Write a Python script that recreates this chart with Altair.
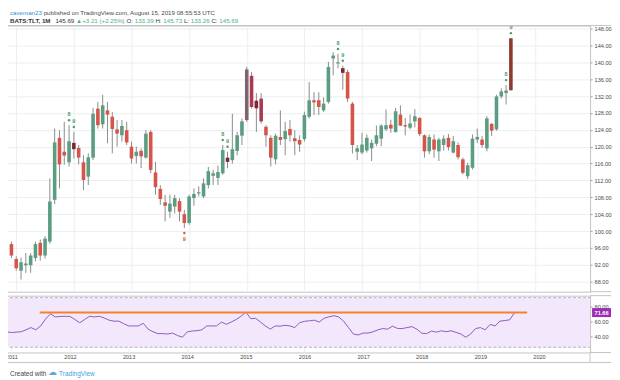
import altair as alt
import pandas as pd

# ---------------- data ----------------
first_month = (2010, 12)   # first monthly candle (Dec 2010) ... last = Aug 2019

opens = [96.9, 93.4, 90.6, 91.9, 91.9, 93.6, 97.2, 94.2, 97.5, 107.4,
         122.1, 118.8, 116.3, 120.9, 119.7, 116.3, 112.9, 117.4, 129.0, 125.3,
         128.6, 127.1, 124.1, 122.7, 123.9, 120.0, 117.8, 119.0, 117.4, 123.5,
         113.9, 110.0, 106.8, 104.6, 105.8, 107.1, 104.0, 101.9, 107.8, 108.9,
         108.2, 110.9, 113.1, 112.6, 113.7, 117.4, 116.8, 119.0, 122.6, 126.3,
         136.8, 130.9, 131.4, 124.7, 122.1, 117.0, 122.3, 121.8, 124.2, 122.0,
         121.6, 121.8, 127.1, 131.0, 131.0, 128.6, 130.6, 140.9, 139.7, 138.6,
         137.7, 130.2, 118.8, 118.6, 119.1, 119.6, 120.7, 121.9, 124.1, 125.2,
         123.5, 127.6, 125.1, 124.5, 126.0, 126.8, 122.7, 118.9, 121.7, 118.9,
         120.4, 122.1, 118.6, 120.4, 117.0, 113.0, 115.0, 121.7, 121.7, 119.6,
         125.4, 124.1, 131.9, 132.7, 133.39]
highs = [97.5, 94.0, 93.7, 94.8, 94.8, 97.5, 98.0, 98.8, 112.5, 124.3,
         123.9, 125.9, 125.1, 123.5, 120.4, 118.0, 118.4, 129.2, 130.6, 132.3,
         130.6, 128.2, 126.3, 126.3, 125.9, 121.2, 120.0, 119.6, 123.9, 123.9,
         116.4, 110.9, 108.6, 108.6, 108.6, 107.8, 105.0, 108.6, 110.1, 110.6,
         112.5, 115.2, 114.5, 115.5, 120.4, 118.8, 127.8, 123.5, 126.7, 138.9,
         137.7, 132.7, 132.7, 125.1, 122.7, 123.1, 128.6, 125.9, 126.3, 123.9,
         122.7, 128.3, 135.3, 132.9, 132.9, 131.7, 140.1, 142.4, 142.0, 139.2,
         138.2, 130.6, 120.4, 123.3, 122.9, 121.7, 125.0, 125.3, 128.8, 126.4,
         129.2, 129.8, 126.8, 127.6, 128.9, 127.0, 122.9, 122.9, 122.9, 122.1,
         122.7, 123.0, 122.5, 121.0, 117.4, 116.2, 122.9, 124.3, 122.5, 127.2,
         125.6, 132.3, 133.8, 134.6, 145.73]
lows = [93.6, 90.6, 88.5, 90.1, 90.1, 92.8, 93.0, 93.5, 97.0, 106.4,
        110.1, 115.7, 115.3, 117.2, 115.8, 109.7, 110.9, 116.8, 124.3, 124.3,
        120.8, 118.4, 120.0, 121.2, 120.4, 116.0, 116.0, 114.9, 117.2, 113.7,
        108.6, 106.2, 102.3, 103.1, 104.2, 102.3, 100.7, 101.5, 106.0, 108.2,
        107.8, 110.1, 110.9, 110.9, 113.3, 114.9, 116.0, 118.0, 120.4, 125.9,
        129.0, 123.5, 125.5, 120.0, 115.3, 115.8, 120.4, 118.0, 121.2, 118.0,
        118.8, 121.2, 126.7, 127.5, 127.5, 128.2, 130.2, 136.9, 138.6, 133.5,
        130.6, 118.4, 116.8, 118.2, 118.6, 116.6, 120.1, 120.1, 123.7, 123.3,
        123.3, 124.9, 122.7, 124.1, 124.6, 122.5, 117.4, 118.2, 117.4, 116.6,
        119.1, 119.1, 118.4, 117.0, 113.4, 112.3, 114.6, 120.9, 119.7, 118.9,
        122.5, 123.8, 131.4, 130.0, 133.26]
closes = [94.2, 91.2, 92.6, 92.3, 94.2, 96.9, 94.2, 98.2, 107.0, 121.0,
          115.8, 117.9, 121.3, 119.4, 117.4, 112.1, 117.5, 127.8, 125.1, 129.8,
          127.6, 124.2, 123.1, 124.9, 121.0, 117.2, 118.8, 117.7, 123.1, 114.5,
          110.4, 107.6, 106.0, 106.5, 107.8, 104.6, 101.9, 108.2, 108.8, 109.2,
          111.3, 114.2, 113.7, 114.0, 119.2, 116.4, 119.4, 122.7, 126.0, 138.3,
          129.4, 129.1, 126.0, 122.7, 117.4, 122.6, 121.6, 123.7, 122.7, 121.3,
          120.5, 127.5, 131.0, 130.5, 129.4, 130.2, 138.9, 141.6, 140.0, 137.5,
          131.4, 120.4, 119.6, 120.5, 122.1, 120.9, 122.7, 125.0, 125.1, 124.3,
          128.4, 125.0, 124.8, 125.5, 127.2, 123.0, 118.9, 122.3, 119.3, 121.7,
          121.9, 119.9, 121.3, 117.5, 113.8, 115.6, 121.9, 122.3, 120.4, 126.7,
          123.8, 131.9, 133.1, 133.3, 145.69]
rsi = [46, 45, 45.5, 46, 48.6, 51.6, 48.6, 53.8, 63, 70,
       65.8, 66.5, 66.7, 66.5, 62.4, 58, 62.4, 66.7, 65.8, 66.7,
       64.5, 61.5, 60.2, 60.2, 56.8, 53.8, 53.8, 53.8, 57.3, 49.5,
       46, 43.5, 43.5, 43, 44.3, 41, 38.7, 45.9, 47, 47.5,
       48.6, 53.8, 53.8, 53.8, 59, 56, 59, 62.4, 66.7, 72.3,
       63.5, 64, 59, 53.8, 49.5, 53.8, 53.5, 54.7, 53.8, 51.6,
       58, 60, 60.6, 61.5, 59, 64, 66, 67.5, 65.8, 60.2,
       51.6, 43, 41.7, 44.3, 44.3, 45.9, 48.5, 50.3, 49.5, 53.5,
       50.5, 50.3, 51.6, 52.9, 49.5, 44, 43.5, 47, 45.5, 47.3,
       46, 47.3, 45.2, 43, 38.7, 43, 50.3, 51.6, 48.6, 55.9,
       53.8, 60.2, 61, 62, 71.66]

# bars drawn in a highlighted colour on the reference
special_bars = {"2012-01": "maroon", "2014-09": "maroon", "2015-01": "mauve",
                "2015-02": "crimson", "2015-03": "maroon", "2015-04": "crimson",
                "2016-09": "maroon", "2019-08": "brown"}
markers_above = [("2011-12", "8"), ("2012-01", "9"), ("2014-08", "8"), ("2014-09", "9"),
                 ("2016-08", "8"), ("2016-09", "9"), ("2019-07", "8"), ("2019-08", "9")]
markers_below = [("2013-12", "9")]

year_labels = list(range(2011, 2021))
price_ticks = list(range(88, 149, 4))
rsi_ticks = [40, 60, 80]
rsi_level = 71.66
rsi_band = [25.3, 91.6]
trend_dates = ["2011-06-25", "2019-10-18"]

header_line1 = [("caveman23", "#2f8fdc", "normal"),
                ("published on TradingView.com, August 15, 2019 08:55:53 UTC", "#4a4a4a", "normal")]
header_line2 = [("BATS:TLT, 1M", "#333333", "bold"), ("145.69", "#333333", "normal"),
                ("\u25B2", "#4caf7d", "normal"), ("+3.21 (+2.25%)", "#4caf7d", "normal"),
                ("O:", "#333333", "normal"), ("133.39", "#4caf7d", "normal"),
                ("H:", "#333333", "normal"), ("145.73", "#4caf7d", "normal"),
                ("L:", "#333333", "normal"), ("133.26", "#4caf7d", "normal"),
                ("C:", "#333333", "normal"), ("145.69", "#4caf7d", "normal")]

# ---------------- helpers ----------------
n = len(opens)
base_t = first_month[0] * 12 + first_month[1] - 1
months = [f"{(base_t + i) // 12}-{(base_t + i) % 12 + 1:02d}" for i in range(n)]
idx = {mo: i for i, mo in enumerate(months)}


def frac_index(date_str):
    y, m, d = map(int, date_str.split("-"))
    return (y * 12 + m - 1) - base_t + (d - 1) / 30.0


EM = {' ': .278, '.': .278, ',': .278, ':': .278, '(': .333, ')': .333, '+': .584,
      '%': .889, 'A': .667, 'B': .667, 'C': .722, 'H': .722, 'L': .556, 'M': .833,
      'O': .778, 'S': .667, 'T': .611, 'U': .722, 'V': .667, 'I': .278,
      'a': .556, 'b': .556, 'c': .5, 'd': .556, 'e': .556, 'f': .278, 'g': .556,
      'h': .556, 'i': .222, 'j': .222, 'k': .5, 'l': .222, 'm': .833, 'n': .556,
      'o': .556, 'p': .556, 'q': .556, 'r': .333, 's': .5, 't': .278, 'u': .556,
      'v': .5, 'w': .722, 'x': .5, 'y': .5, 'z': .5, '\u25B2': .72}


def text_w(s, size, bold=False):
    w = sum(EM.get(ch, .556) for ch in s) * size
    return w * (1.07 if bold else 1.0)


states = []
for i in range(n):
    s = special_bars.get(months[i])
    if s is None:
        s = "up" if closes[i] >= opens[i] else "down"
    states.append(s)

candles = pd.DataFrame({
    "m": list(range(n)), "month": months, "open": opens, "high": highs,
    "low": lows, "close": closes, "state": states,
})
candles["body_lo"] = candles[["open", "close"]].min(axis=1)
candles["body_hi"] = candles[["open", "close"]].max(axis=1).clip(lower=candles["body_lo"] + 0.3)

rsi_df = pd.DataFrame({"m": list(range(n)), "rsi": rsi})

year_ticks = [frac_index(f"{y}-01-01") for y in year_labels]
trend_m = [frac_index(d) for d in trend_dates]

# ---------------- layout / style ----------------
W = 587
H_MAIN = 267
H_RSI = 57
EXT = 21          # right price-scale strip
X_DOMAIN = [-0.3, 119.45]
P_DOMAIN = [85.63, 148.71]
R_DOMAIN = [18.3, 94.3]
FRAME = "#c4c4c4"
GRID = "#eceef1"
WICK = "#8c8c8c"
FONT = "Liberation Sans"
HDR = 6.2
LBL = dict(labelFontSize=5.6, labelColor="#4a4a4a", labelFont=FONT, labelOverlap=False)
state_dom = ["up", "down", "maroon", "mauve", "crimson", "brown"]
state_rng = ["#5b9d80", "#d6544a", "#7e2733", "#7d6470", "#a83a52", "#8e3a2c"]

xs = alt.Scale(domain=X_DOMAIN, nice=False, zero=False)
ps = alt.Scale(domain=P_DOMAIN, nice=False, zero=False)
rs = alt.Scale(domain=R_DOMAIN, nice=False, zero=False)
one = pd.DataFrame({"k": [0]})
tag_half = 4.5 * (R_DOMAIN[1] - R_DOMAIN[0]) / H_RSI   # 9 px tall tag, in RSI units

ax_x_main = alt.Axis(values=year_ticks, labels=False, ticks=False, domain=False,
                     grid=True, gridColor=GRID, title=None)
ax_y_main = alt.Axis(orient="right", values=price_ticks, format=".2f", grid=True,
                     gridColor=GRID, domain=False, tickSize=2, tickColor="#9a9a9a",
                     labelPadding=2, title=None, **LBL)
label_expr = f"'' + ({year_labels[0]} + round((datum.value - {year_ticks[0]}) / 12))"
ax_x_rsi = alt.Axis(values=year_ticks, labelExpr=label_expr, grid=True, gridColor=GRID,
                    ticks=False, domain=False, labelPadding=2, title=None, **LBL)
ax_y_rsi = alt.Axis(orient="right", values=rsi_ticks, format=".2f", grid=True,
                    gridColor="#e9def2", domain=False, tickSize=2, tickColor="#9a9a9a",
                    labelPadding=2, title=None, **LBL)


def hrule(y, x0, x1, color=FRAME, width=1):
    return alt.Chart(one).mark_rule(color=color, strokeWidth=width).encode(
        x=alt.value(x0), x2=alt.value(x1), y=alt.value(y))


def vrule(x, y0, y1, color=FRAME, width=1):
    return alt.Chart(one).mark_rule(color=color, strokeWidth=width).encode(
        x=alt.value(x), y=alt.value(y0), y2=alt.value(y1))


def text_line(segments, y, size, x0=5):
    layers = []
    x = x0
    for s, color, weight in segments:
        bold = weight == "bold"
        layers.append(
            alt.Chart(pd.DataFrame({"t": [s]})).mark_text(
                align="left", baseline="top", fontSize=size, font=FONT,
                fontWeight=weight, color=color
            ).encode(x=alt.value(x), y=alt.value(y), text="t:N"))
        x += text_w(s, size, bold) + text_w(" ", size)
    return layers


# ---------------- main price pane ----------------
X_M = lambda f: alt.X(f, scale=xs, axis=ax_x_main)
Y_M = lambda f: alt.Y(f, scale=ps, axis=ax_y_main)

cd = alt.Chart(candles)
wicks = cd.mark_rule(color=WICK, strokeWidth=1).encode(
    x=X_M("m:Q"), y=Y_M("low:Q"), y2="high:Q")
bodies = cd.mark_bar(size=3.6).encode(
    x=X_M("m:Q"), y=Y_M("body_lo:Q"), y2="body_hi:Q",
    color=alt.Color("state:N", scale=alt.Scale(domain=state_dom, range=state_rng), legend=None),
    tooltip=["month:N", "open:Q", "high:Q", "low:Q", "close:Q"],
)

mk_a = pd.DataFrame({"m": [idx[a] for a, _ in markers_above],
                     "p": [highs[idx[a]] for a, _ in markers_above],
                     "lab": [b for _, b in markers_above]})
mk_b = pd.DataFrame({"m": [idx[a] for a, _ in markers_below],
                     "p": [lows[idx[a]] for a, _ in markers_below],
                     "lab": [b for _, b in markers_below]})
dots_a = alt.Chart(mk_a).mark_circle(size=6, color="#4f9a6e", opacity=1, yOffset=-5).encode(
    x=X_M("m:Q"), y=Y_M("p:Q"))
labs_a = alt.Chart(mk_a).mark_text(dy=-11, fontSize=5.5, font=FONT, color="#4f9a6e",
                                   fontWeight="bold").encode(x=X_M("m:Q"), y=Y_M("p:Q"), text="lab:N")
dots_b = alt.Chart(mk_b).mark_circle(size=6, color="#d6544a", opacity=1, yOffset=5).encode(
    x=X_M("m:Q"), y=Y_M("p:Q"))
labs_b = alt.Chart(mk_b).mark_text(dy=11, fontSize=5.5, font=FONT, color="#d6544a",
                                   fontWeight="bold").encode(x=X_M("m:Q"), y=Y_M("p:Q"), text="lab:N")

main_layers = [wicks, bodies, dots_a, labs_a, dots_b, labs_b,
               hrule(0, 0, W + EXT), hrule(H_MAIN, W, W + EXT)]
main_layers += text_line(header_line1, -16, HDR)
main_layers += text_line(header_line2, -8, HDR)
main = alt.layer(*main_layers).properties(width=W, height=H_MAIN)

# ---------------- RSI pane ----------------
X_R = lambda f: alt.X(f, scale=xs, axis=ax_x_rsi)
Y_R = lambda f: alt.Y(f, scale=rs, axis=ax_y_rsi)

band = alt.Chart(one).mark_rect(color="#f3e8fb").encode(
    x=alt.value(0), x2=alt.value(W),
    y=alt.YDatum(rsi_band[0], scale=rs, axis=ax_y_rsi), y2=alt.Y2Datum(rsi_band[1]))
band_lines = [alt.Chart(one).mark_rule(color="#b8aec4", strokeWidth=1, strokeDash=[3, 2]).encode(
    x=alt.value(0), x2=alt.value(W), y=alt.YDatum(v, scale=rs, axis=ax_y_rsi)) for v in rsi_band]
rsi_line = alt.Chart(rsi_df).mark_line(color="#8c5cc0", strokeWidth=1).encode(
    x=X_R("m:Q"), y=Y_R("rsi:Q"))
trend = alt.Chart(one).mark_rule(color="#f5822a", strokeWidth=2).encode(
    x=alt.XDatum(trend_m[0], scale=xs, axis=ax_x_rsi), x2=alt.X2Datum(trend_m[1]),
    y=alt.YDatum(rsi_level, scale=rs, axis=ax_y_rsi))
tag = alt.Chart(one).mark_rect(color="#9b2fb3").encode(
    x=alt.value(W + 2), x2=alt.value(W + EXT),
    y=alt.YDatum(rsi_level - tag_half, scale=rs, axis=ax_y_rsi),
    y2=alt.Y2Datum(rsi_level + tag_half))
tag_text = alt.Chart(pd.DataFrame({"t": [f"{rsi_level:.2f}"]})).mark_text(
    color="white", fontSize=5.6, font=FONT, fontWeight="bold", align="center", baseline="middle"
).encode(x=alt.value(W + 2 + (EXT - 2) / 2), y=alt.YDatum(rsi_level, scale=rs, axis=ax_y_rsi),
         text="t:N")

footer = text_line([("Created with", "#444444", "normal")], H_RSI + 19, 6.5)
cw = 5 + text_w("Created with ", 6.5)
footer += [alt.Chart(pd.DataFrame({"t": ["\u2601"]})).mark_text(
    align="left", baseline="top", fontSize=9, color="#5aa8dc").encode(
    x=alt.value(cw), y=alt.value(H_RSI + 16), text="t:N")]
footer += text_line([("TradingView", "#3ba2e0", "normal")], H_RSI + 19, 6.5, x0=cw + 11)

rsi_layers = [band] + band_lines + [rsi_line, trend, tag, tag_text,
                                    hrule(H_RSI + 10, 0, W + EXT), hrule(0, W, W + EXT),
                                    hrule(H_RSI, W, W + EXT),
                                    vrule(0, H_RSI, H_RSI + 10), vrule(W, H_RSI, H_RSI + 10)] + footer
rsi_chart = alt.layer(*rsi_layers).properties(width=W, height=H_RSI)

chart = alt.vconcat(main, rsi_chart, spacing=2).properties(
    padding={"left": -5, "top": 0, "right": 0, "bottom": 0}
).configure_view(stroke=FRAME, strokeWidth=1)

chart.save("out.html", embed_options={"renderer": "svg", "actions": False})
